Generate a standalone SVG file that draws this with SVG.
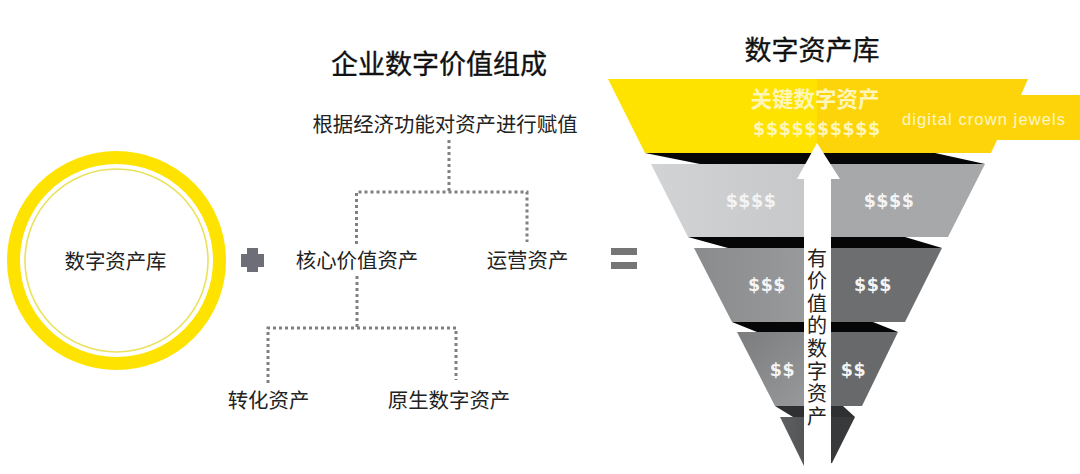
<svg xmlns="http://www.w3.org/2000/svg" width="1080" height="474" viewBox="0 0 1080 474">
<style>
text{font-family:"Noto Sans CJK SC","Liberation Sans",sans-serif;fill:#222}
.t{font-size:20.4px;text-anchor:middle}
.h{font-size:27px;font-weight:400;text-anchor:middle;fill:#111;stroke:#111;stroke-width:.35px}
.d{font-family:"DejaVu Sans",sans-serif;font-weight:700;font-size:17.500px;fill:#f4f4f4;text-anchor:middle;letter-spacing:.5px}
.dot{fill:none;stroke:#808084;stroke-width:3;stroke-dasharray:3 3}
.k{fill:#060606}
</style>
<defs>
<linearGradient id="g1" x1="0" x2="1" y1="0" y2="0"><stop offset="0" stop-color="#d2d3d5"/><stop offset="1" stop-color="#c6c7c9"/></linearGradient>
<linearGradient id="g2" x1="0" x2="1" y1="0" y2="0"><stop offset="0" stop-color="#8a8b8d"/><stop offset="1" stop-color="#9a9b9d"/></linearGradient>
<linearGradient id="g3" x1="0" x2="1" y1="0" y2="1"><stop offset="0" stop-color="#7b7c7e"/><stop offset="1" stop-color="#9a9b9d"/></linearGradient>
<linearGradient id="g4" x1="0" x2="1" y1="0" y2="0"><stop offset="0" stop-color="#5f6062"/><stop offset="1" stop-color="#4d4e50"/></linearGradient>
</defs>
<rect width="1080" height="474" fill="#fff"/>

<g id="connectors">
<path class="dot" d="M449 140V192"/>
<path class="dot" d="M356.500 244V192H527V242"/>
<path class="dot" d="M357 276V328"/>
<path class="dot" d="M268 383V328H456V380"/>
</g>

<g id="node-circle">
<circle cx="116.500" cy="260.500" r="103" fill="none" stroke="#ffe300" stroke-width="13"/>
<circle cx="116.500" cy="260.500" r="91.500" fill="none" stroke="#e9e25a" stroke-width="1.600"/>
<text class="t" x="115.500" y="268.500">数字资产库</text>
</g>
<g id="plus"><path d="M247 248H258V254H264V267H258V272H247V267H241V254H247Z" fill="#6e6e78"/></g>
<g id="equals"><rect x="611" y="248" width="26" height="7" fill="#757575"/><rect x="611" y="262" width="26" height="7" fill="#757575"/></g>

<g id="title-left"><text class="h" x="439" y="74">企业数字价值组成</text></g>
<g id="node-valuation"><text class="t" x="445" y="131.500">根据经济功能对资产进行赋值</text></g>
<g id="node-core"><text class="t" x="357" y="268">核心价值资产</text></g>
<g id="node-ops"><text class="t" x="527.500" y="268">运营资产</text></g>
<g id="node-converted"><text class="t" x="268.500" y="408">转化资产</text></g>
<g id="node-native"><text class="t" x="449" y="408">原生数字资产</text></g>
<g id="title-right"><text class="h" x="812" y="60">数字资产库</text></g>

<g id="tier-crown">
<path d="M608 79H817V153H645Z" fill="#ffe300"/>
<path d="M817 79H1028L1021 95H1080V140H997L991 153H817Z" fill="#fdd40a"/>
<text x="815" y="107" style="font-size:21.500px;font-weight:700;text-anchor:middle;fill:#fff6b8">关键数字资产</text>
<text class="d" x="817" y="135" style="fill:#fff6b8;font-size:17.500px;letter-spacing:.6px">$$$$$$$$$$</text>
<text x="984" y="125" style="font-family:'Liberation Sans',sans-serif;font-size:16.500px;letter-spacing:1.100px;text-anchor:middle;fill:#fff6c8">digital crown jewels</text>
</g>
<g id="tier-4">
<path class="k" d="M645 153H935L985 164H700Z"/>
<path d="M651 164H817V237H688Z" fill="url(#g1)"/>
<path d="M817 164H985L948 237H817Z" fill="#a7a8aa"/>
<text class="d" x="751" y="206.500">$$$$</text>
<text class="d" x="889" y="206.500">$$$$</text>
</g>
<g id="tier-3">
<path class="k" d="M688 237H905L942 248H728Z"/>
<path d="M694 248H817V322H732Z" fill="url(#g2)"/>
<path d="M817 248H942L905 322H817Z" fill="#6d6e70"/>
<text class="d" x="767" y="290.500">$$$</text>
<text class="d" x="873" y="290.500">$$$</text>
</g>
<g id="tier-2">
<path class="k" d="M732 322H873L898 332H757Z"/>
<path d="M737 332H817V406H775Z" fill="url(#g3)"/>
<path d="M817 332H898L862 406H817Z" fill="#68696b"/>
<text class="d" x="782.500" y="375.500">$$</text>
<text class="d" x="853.500" y="375.500">$$</text>
</g>
<g id="tier-1">
<path d="M775 406H843L855 417H793Z" fill="#2f3031"/>
<path d="M780 417H817V466H804Z" fill="url(#g4)"/>
<path d="M817 417H855L832 463L817 466Z" fill="#37393a"/>
</g>
<g id="value-arrow">
<path d="M817 143L840 179H831V470H804V179H797Z" fill="#fff"/>
<text x="817" y="248" style="font-size:20px;writing-mode:vertical-rl;letter-spacing:2.600px;fill:#222">有价值的数字资产</text>
</g>
</svg>
